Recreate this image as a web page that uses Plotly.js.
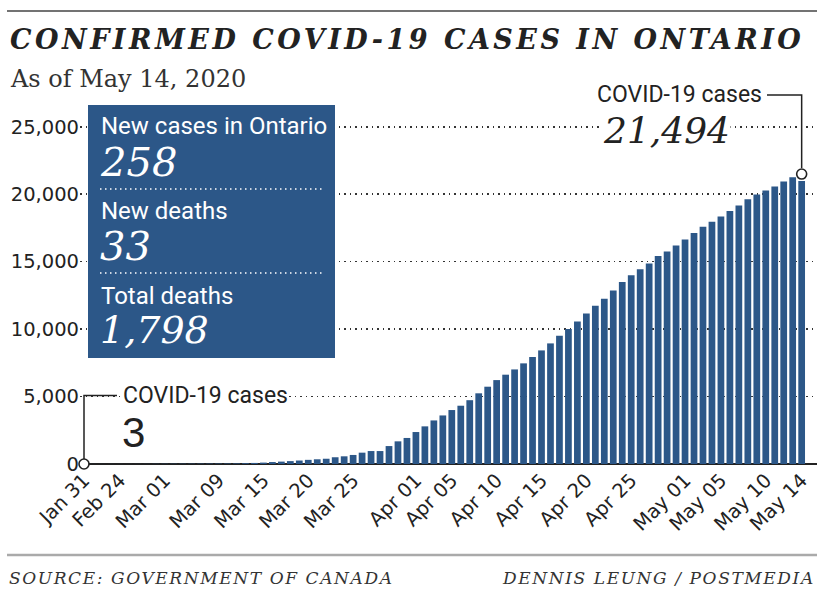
<!DOCTYPE html>
<html>
<head>
<meta charset="utf-8">
<script src="https://cdn.plot.ly/plotly-3.0.1.min.js"></script>
<style>
html,body{margin:0;padding:0;background:#fff;}
#chart{width:829px;height:597px;}
</style>
</head>
<body>
<div id="chart"></div>
<script>
// ---- data ----
var dates = [
  "Jan 31","Feb 08","Feb 16","Feb 21","Feb 24","Feb 25","Feb 26","Feb 27","Feb 29",
  "Mar 01","Mar 03","Mar 04","Mar 05","Mar 06","Mar 08","Mar 09","Mar 10","Mar 11","Mar 12","Mar 13",
  "Mar 15","Mar 16","Mar 17","Mar 18","Mar 19","Mar 20","Mar 21","Mar 22","Mar 23","Mar 24","Mar 25",
  "Mar 26","Mar 27","Mar 28","Mar 29","Mar 30","Mar 31",
  "Apr 01","Apr 02","Apr 03","Apr 04","Apr 05","Apr 06","Apr 07","Apr 08","Apr 09","Apr 10",
  "Apr 11","Apr 12","Apr 13","Apr 14","Apr 15","Apr 16","Apr 17","Apr 18","Apr 19","Apr 20",
  "Apr 21","Apr 22","Apr 23","Apr 24","Apr 25","Apr 26","Apr 27","Apr 28","Apr 29","Apr 30",
  "May 01","May 02","May 03","May 04","May 05","May 06","May 07","May 08","May 09","May 10",
  "May 11","May 12","May 13","May 14"
];
var cases = [
  3,3,3,4,4,4,5,6,11,
  15,18,20,22,26,29,32,36,41,59,79,
  104,145,177,214,258,308,350,390,500,570,670,
  840,960,960,1330,1680,1930,
  2370,2790,3230,3600,4000,4320,4730,5240,5730,6220,
  6620,7010,7460,7930,8420,8940,9500,10000,10570,11160,
  11730,12250,12860,13500,13990,14430,14870,15410,15760,16200,
  16640,17130,17580,17950,18350,18760,19160,19630,19980,20270,
  20570,20940,21260,20985
];
var tickDates = ["Jan 31","Feb 24","Mar 01","Mar 09","Mar 15","Mar 20","Mar 25","Apr 01","Apr 05",
  "Apr 10","Apr 15","Apr 20","Apr 25","May 01","May 05","May 10","May 14"];
var yTicks = [0,5000,10000,15000,20000,25000];
var firstLabel = "COVID-19 cases", firstValue = "3";
var lastLabel = "COVID-19 cases", lastValue = 21494, lastValueText = "21,494";
var boxLabels = ["New cases in Ontario","New deaths","Total deaths"];
var boxValues = ["258","33","1,798"];
var titleText = "CONFIRMED COVID-19 CASES IN ONTARIO";
var subtitleText = "As of May 14, 2020";
var sourceText = "SOURCE: GOVERNMENT OF CANADA";
var creditText = "DENNIS LEUNG / POSTMEDIA";

// ---- layout geometry ----
var W = 829, H = 597;
var M = {l:80, r:12, t:120, b:133};
var PW = W - M.l - M.r, PH = H - M.t - M.b;
var xr = [-0.446, 81.71];
var yr = [0, 25500];
function px(p){ return (p - M.l)/PW; }          // pixel x -> paper
function py(p){ return (H - M.b - p)/PH; }      // pixel y -> paper
function ix(i){ return (i - xr[0])/(xr[1]-xr[0]); } // category index -> paper

var BLUE = '#2c5788', INK = '#222222';
var NARROW = 'Roboto,"Liberation Sans",sans-serif';
var SERIF = '"DejaVu Serif",serif';
var SANS = '"DejaVu Sans",sans-serif';

var lastIdx = dates.length - 1;

var traces = [
  {type:'bar', x:dates, y:cases, marker:{color:BLUE}, hoverinfo:'skip'},
  {type:'scatter', mode:'markers', x:[dates[0], dates[lastIdx]], y:[0, lastValue],
   marker:{symbol:'circle', size:10, color:'#fff', line:{color:INK, width:1.6}},
   cliponaxis:false, hoverinfo:'skip'}
];

function ann(o){
  return Object.assign({xref:'paper', yref:'paper', showarrow:false, borderpad:0}, o);
}

var annotations = [
  ann({x:px(9), y:py(39), xanchor:'left', yanchor:'middle',
       text:'<span style="letter-spacing:3.5px"><b><i>'+titleText+'</i></b></span>',
       font:{family:SERIF, size:27, color:INK}}),
  ann({x:px(9), y:py(79), xanchor:'left', yanchor:'middle', text:subtitleText,
       font:{family:SERIF, size:24, color:'#333'}}),
  // first value annotation
  ann({x:px(122), y:py(395), xanchor:'left', yanchor:'middle', text:firstLabel, bgcolor:'#fff',
       font:{family:NARROW, size:23, color:INK}}),
  ann({x:px(121), y:py(432), xanchor:'left', yanchor:'middle', text:firstValue,
       font:{family:'"Liberation Sans",Arial,sans-serif', size:42, color:INK}}),
  // last value annotation
  ann({x:px(763), y:py(94), xanchor:'right', yanchor:'middle', text:lastLabel,
       font:{family:NARROW, size:23, color:INK}}),
  ann({x:px(602), y:py(130), xanchor:'left', yanchor:'middle', text:'<i>'+lastValueText+'</i>', bgcolor:'#fff',
       font:{family:SERIF, size:36, color:INK}}),
  // info box
  ann({x:px(100), y:py(126), xanchor:'left', yanchor:'middle', text:boxLabels[0], font:{family:NARROW, size:24, color:'#fff'}}),
  ann({x:px(99), y:py(162), xanchor:'left', yanchor:'middle', text:'<i>'+boxValues[0]+'</i>', font:{family:SERIF, size:40, color:'#fff'}}),
  ann({x:px(100), y:py(211), xanchor:'left', yanchor:'middle', text:boxLabels[1], font:{family:NARROW, size:24, color:'#fff'}}),
  ann({x:px(99), y:py(246), xanchor:'left', yanchor:'middle', text:'<i>'+boxValues[1]+'</i>', font:{family:SERIF, size:40, color:'#fff'}}),
  ann({x:px(100), y:py(296), xanchor:'left', yanchor:'middle', text:boxLabels[2], font:{family:NARROW, size:24, color:'#fff'}}),
  ann({x:px(99), y:py(330), xanchor:'left', yanchor:'middle', text:'<i>'+boxValues[2]+'</i>', font:{family:SERIF, size:38, color:'#fff'}}),
  // footer
  ann({x:px(8), y:py(578), xanchor:'left', yanchor:'middle',
       text:'<span style="letter-spacing:1.6px"><i>'+sourceText+'</i></span>', font:{family:SERIF, size:17, color:'#333'}}),
  ann({x:px(816), y:py(578), xanchor:'right', yanchor:'middle',
       text:'<span style="letter-spacing:1.6px"><i>'+creditText+'</i></span>', font:{family:SERIF, size:17, color:'#333'}})
];

var shapes = [
  {type:'line', xref:'paper', yref:'paper', x0:px(7), x1:px(817), y0:py(11), y1:py(11), line:{color:'#444', width:1.5}},
  {type:'line', xref:'paper', yref:'paper', x0:px(7), x1:px(817), y0:py(555), y1:py(555), line:{color:'#aaa', width:2.5}},
  {type:'rect', xref:'paper', yref:'paper', x0:px(88), x1:px(335), y0:py(358), y1:py(105), fillcolor:BLUE, line:{width:0}, layer:'above'},
  {type:'line', xref:'paper', yref:'paper', x0:px(100), x1:px(323), y0:py(189), y1:py(189), line:{color:'#fff', width:1.5, dash:'1.5px,3.5px'}, layer:'above'},
  {type:'line', xref:'paper', yref:'paper', x0:px(100), x1:px(323), y0:py(273), y1:py(273), line:{color:'#fff', width:1.5, dash:'1.5px,3.5px'}, layer:'above'},
  // left connector
  {type:'path', xref:'paper', yref:'paper', layer:'above',
   path:'M'+ix(0)+','+py(459)+' L'+ix(0)+','+py(395.5)+' L'+px(117)+','+py(395.5),
   line:{color:INK, width:1.5}},
  // right connector
  {type:'path', xref:'paper', yref:'paper', layer:'above',
   path:'M'+ix(lastIdx)+','+py(168)+' L'+ix(lastIdx)+','+py(95)+' L'+px(767)+','+py(95),
   line:{color:INK, width:1.5}}
];

var layout = {
  width:W, height:H, margin:M,
  paper_bgcolor:'#fff', plot_bgcolor:'#fff',
  showlegend:false, bargap:0.25,
  xaxis:{type:'category', categoryorder:'array', categoryarray:dates, range:xr,
         tickmode:'array', tickvals:tickDates, ticktext:tickDates, tickangle:-45,
         ticks:'', showgrid:false, zeroline:false, showline:false, fixedrange:true,
         tickfont:{family:SANS, size:19.5, color:INK}},
  yaxis:{range:yr, tickmode:'array', tickvals:yTicks, tickformat:',', ticks:'',
         showgrid:true, gridcolor:'#333', gridwidth:1.5, griddash:'1.5px,4px',
         zeroline:true, zerolinecolor:INK, zerolinewidth:2, showline:false, fixedrange:true,
         tickfont:{family:SANS, size:19.5, color:INK}},
  annotations:annotations,
  shapes:shapes
};

Plotly.newPlot('chart', traces, layout, {displayModeBar:false, staticPlot:true});
</script>
</body>
</html>
